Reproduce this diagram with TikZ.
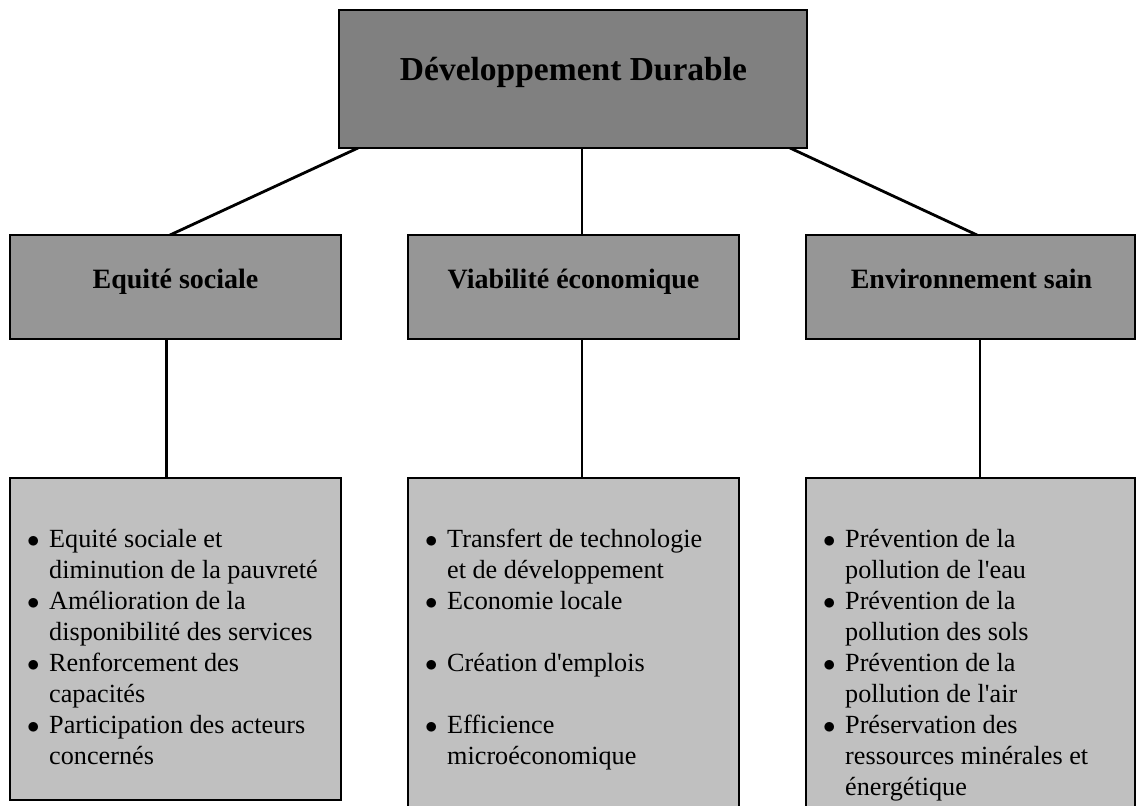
\documentclass[tikz,border=0pt]{standalone}
\usepackage{fontspec}
\setmainfont{Liberation Serif}
\usetikzlibrary{backgrounds}
\definecolor{topfill}{HTML}{808080}
\definecolor{midfill}{HTML}{969696}
\definecolor{lowfill}{HTML}{C0C0C0}
\newcommand\bitem[1]{\makebox[21pt][l]{\hspace*{-1pt}$\bullet$}#1}
\newcommand\bcont[1]{\hspace*{21pt}#1}
\begin{document}
\begin{tikzpicture}[x=1pt,y=-1pt,
  box/.style={draw=black,line width=2.8pt,inner sep=0pt,outer sep=0pt,rectangle},
  topbox/.style={box,fill=topfill,minimum width=468pt,minimum height=138pt},
  midbox/.style={box,fill=midfill,minimum height=104pt},
  lowbox/.style={box,fill=lowfill},
  toptext/.style={anchor=base,inner sep=0pt,font=\fontsize{33.5}{40}\selectfont\bfseries},
  midtext/.style={anchor=base,inner sep=0pt,font=\fontsize{28}{34}\selectfont\bfseries},
  lowtext/.style={anchor=base west,inner sep=0pt,font=\fontsize{26.2}{31}\selectfont},
  conn/.style={line width=2.8pt,draw=black}]
\useasboundingbox (0,0) rectangle (1136,806);
% boxes
\node[topbox] (top) at (573,79) {};
\node[midbox,minimum width=331pt] (eq) at (175.5,287) {};
\node[midbox,minimum width=331pt] (vi) at (573.5,287) {};
\node[midbox,minimum width=329pt] (en) at (970.5,287) {};
\node[lowbox,minimum width=331pt,minimum height=322pt] (eqL) at (175.5,639) {};
\node[lowbox,minimum width=331pt,minimum height=352pt] (viL) at (573.5,654) {};
\node[lowbox,minimum width=329pt,minimum height=352pt] (enL) at (970.5,654) {};
% titles
\node[toptext] (topT) at (573.5,80) {Développement Durable};
\node[midtext] (eqT) at (175.5,288) {Equité sociale};
\node[midtext] (viT) at (573.5,288) {Viabilité économique};
\node[midtext] (enT) at (971.5,288) {Environnement sain};
% lists
\node[lowtext] (eqList) at (28,547) {\parbox[t]{310pt}{%
\bitem{Equité sociale et}\\
\bcont{diminution de la pauvreté}\\
\bitem{Amélioration de la}\\
\bcont{disponibilité des services}\\
\bitem{Renforcement des}\\
\bcont{capacités}\\
\bitem{Participation des acteurs}\\
\bcont{concernés}}};
\node[lowtext] (viList) at (426,547) {\parbox[t]{310pt}{%
\bitem{Transfert de technologie}\\
\bcont{et de développement}\\
\bitem{Economie locale}\\[31pt]
\bitem{Création d\textquotesingle emplois}\\[31pt]
\bitem{Efficience}\\
\bcont{microéconomique}}};
\node[lowtext] (enList) at (824,547) {\parbox[t]{310pt}{%
\bitem{Prévention de la}\\
\bcont{pollution de l\textquotesingle eau}\\
\bitem{Prévention de la}\\
\bcont{pollution des sols}\\
\bitem{Prévention de la}\\
\bcont{pollution de l\textquotesingle air}\\
\bitem{Préservation des}\\
\bcont{ressources minérales et}\\
\bcont{énergétique}}};
% connectors
\begin{pgfonlayer}{background}
\draw[conn] ([xshift=19pt]top.south west) -- ([xshift=-5.5pt]eq.north);
\draw[conn] ([xshift=9pt]top.south) -- ([xshift=8.5pt]vi.north);
\draw[conn] ([xshift=-17pt]top.south east) -- ([xshift=6.5pt]en.north);
\draw[conn] ([xshift=-9pt]eq.south) -- ([xshift=-9pt]eqL.north);
\draw[conn] ([xshift=8.5pt]vi.south) -- ([xshift=8.5pt]viL.north);
\draw[conn] ([xshift=9.5pt]en.south) -- ([xshift=9.5pt]enL.north);
\end{pgfonlayer}
\end{tikzpicture}
\end{document}
